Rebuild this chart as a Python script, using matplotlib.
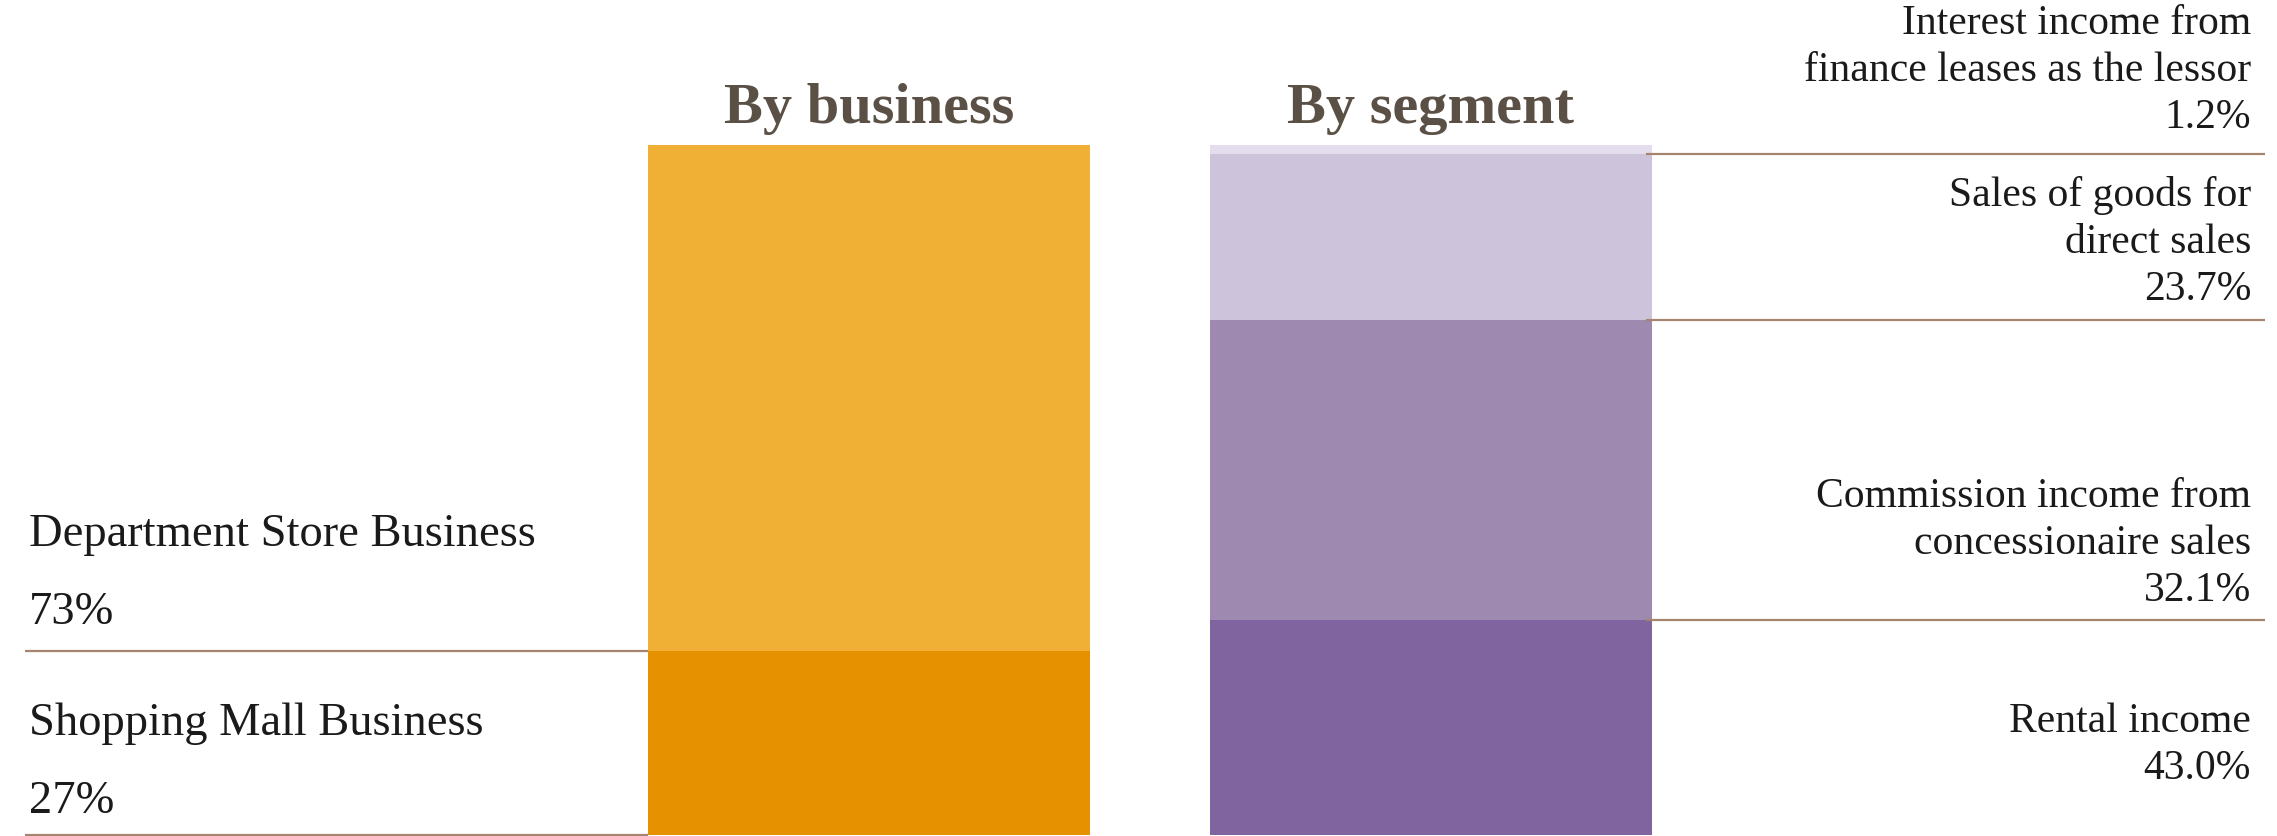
import matplotlib.pyplot as plt

# data
business_labels = ['Shopping Mall Business', 'Department Store Business']
business_pct = ['27%', '73%']
# bar heights as drawn in the picture
business_values = [26.6, 73.4]

segment_labels = ['Rental income',
                  'Commission income from\nconcessionaire sales',
                  'Sales of goods for\ndirect sales',
                  'Interest income from\nfinance leases as the lessor']
segment_pct = ['43.0%', '32.1%', '23.7%', '1.2%']
# bar heights as drawn in the picture (bottom two look swapped vs. labels)
segment_values = [31.2, 43.5, 24.0, 1.3]

titles = ['By business', 'By segment']

business_colors = ['#e69100', '#f0af35']
segment_colors = ['#8064a0', '#9e8ab0', '#cdc3da', '#e4ddee']
line_color = '#a58470'
title_color = '#5a5045'
text_color = '#1a1a1a'

W, H = 2277, 837
fig = plt.figure(figsize=(W / 100, H / 100), dpi=100)
# axes: y 0..100 maps to pixel rows 836..146, x unit = distance between bar centres
ax = fig.add_axes([0, 1 / H, 1, 690 / H])
ppu = 561.5
x0 = 869
ax.set_xlim(-x0 / ppu, (W - x0) / ppu)
ax.set_ylim(0, 100)
ax.axis('off')

bw = 442 / ppu
px = 0.72  # px -> points at 100 dpi
font = 'Liberation Serif'

# stacked bars
bottom = 0
for v, c in zip(business_values, business_colors):
    ax.bar(0, v, bottom=bottom, width=bw, color=c, linewidth=0)
    bottom += v
bottom = 0
for v, c in zip(segment_values, segment_colors):
    ax.bar(1, v, bottom=bottom, width=bw, color=c, linewidth=0)
    bottom += v

# titles
for i, t in enumerate(titles):
    ax.annotate(t, xy=(i, 100), xytext=(0, 23 * px), textcoords='offset points',
                ha='center', va='baseline', fontsize=42, fontweight='bold',
                color=title_color, family=font, annotation_clip=False)

# left side labels + rules
xl_line = (25 - x0) / ppu
xl_text = (29 - x0) / ppu
b = 0
left_off = [23, 28]
for lab, pct, v, off in zip(business_labels, business_pct, business_values, left_off):
    ax.plot([xl_line, -bw / 2], [b, b], color=line_color, lw=1.6, clip_on=False,
            solid_capstyle='butt')
    ax.annotate(pct, xy=(xl_text, b), xytext=(0, off * px), textcoords='offset points',
                ha='left', va='baseline', fontsize=33.5, color=text_color, family=font)
    ax.annotate(lab, xy=(xl_text, b), xytext=(0, (off + 78) * px), textcoords='offset points',
                ha='left', va='baseline', fontsize=33.5, color=text_color, family=font)
    b += v

# right side labels + rules
xr_line = (2265 - x0) / ppu
xr_text = (2251 - x0) / ppu
b = 0
right_off = [57, 20, 21, 27]
for i, (lab, pct, v, off) in enumerate(zip(segment_labels, segment_pct, segment_values, right_off)):
    if i > 0:
        ax.plot([1 + bw / 2 - 6 / ppu, xr_line], [b, b], color=line_color, lw=1.6,
                clip_on=False, solid_capstyle='butt')
    lines = lab.split('\n') + [pct]
    for k, ln in enumerate(reversed(lines)):
        ax.annotate(ln, xy=(xr_text, b), xytext=(0, (off + 47 * k) * px),
                    textcoords='offset points', ha='right', va='baseline',
                    fontsize=30, color=text_color, family=font, annotation_clip=False)
    b += v

fig.savefig('out.png', dpi=100)
